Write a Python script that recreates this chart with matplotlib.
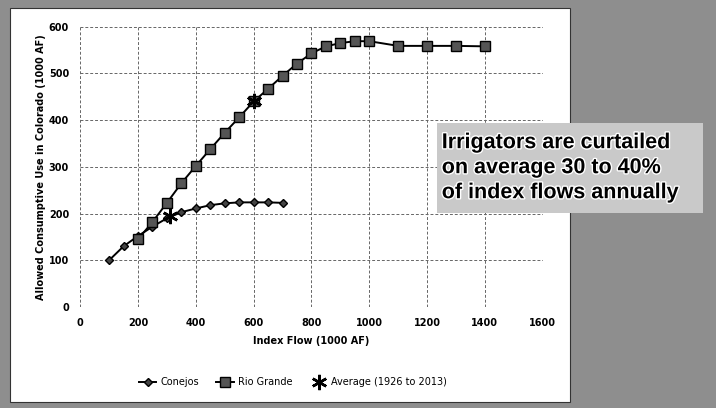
"""Allowed consumptive use in Colorado vs index flow (Conejos / Rio Grande)."""

import matplotlib
matplotlib.use("Agg")
import matplotlib.pyplot as plt
import matplotlib.patheffects as pe
from matplotlib.patches import Rectangle

# Data (1000 AF)
conejos_flow = [100, 150, 200, 250, 300, 350, 400, 450, 500, 550, 600, 650, 700]
conejos_use = [100, 130, 152, 172, 190, 203, 211, 218, 222, 224, 224, 224, 223]

rio_flow = [200, 250, 300, 350, 400, 450, 500, 550, 600, 650, 700, 750, 800,
            850, 900, 950, 1000, 1100, 1200, 1300, 1400]
rio_use = [145, 182, 223, 265, 302, 338, 373, 406, 440, 467, 495, 521, 543,
           558, 565, 569, 569, 559, 559, 559, 558]

avg_flow = [310, 600]
avg_use = [195, 442]

x_ticks = [0, 200, 400, 600, 800, 1000, 1200, 1400, 1600]
y_ticks = [0, 100, 200, 300, 400, 500, 600]

note = "Irrigators are curtailed\non average 30 to 40%\nof index flows annually"

fig = plt.figure(figsize=(7.16, 4.08), dpi=100)
fig.patch.set_facecolor("#8e8e8e")

# white chart panel (behind) and light note box (on top of plot)
fig.patches.append(Rectangle((0.014, 0.015), 0.782, 0.965, transform=fig.transFigure,
                             facecolor="white", edgecolor="#333333", lw=0.8, zorder=0))
fig.patches.append(Rectangle((0.610, 0.478), 0.372, 0.221, transform=fig.transFigure,
                             facecolor="#c9c9c9", edgecolor="none", zorder=5))

ax = fig.add_axes([0.112, 0.2475, 0.646, 0.687])
ax.set_zorder(2)
ax.set_facecolor("white")

ax.plot(conejos_flow, conejos_use, color="black", lw=1.4, marker="D", markersize=4,
        markerfacecolor="#444444", markeredgecolor="black", label="Conejos", zorder=3)
ax.plot(rio_flow, rio_use, color="black", lw=1.4, marker="s", markersize=6.5,
        markerfacecolor="#555555", markeredgecolor="black", label="Rio Grande", zorder=3)
ax.plot(avg_flow, avg_use, linestyle="none", marker=(6, 2, 0), markersize=11,
        color="black", markeredgewidth=1.8, label="Average (1926 to 2013)", zorder=4)

ax.set_xlim(0, 1600)
ax.set_ylim(0, 600)
ax.set_xticks(x_ticks)
ax.set_yticks(y_ticks)
ax.grid(True, color="#666666", linestyle="--", lw=0.7, dashes=(3, 2))
ax.set_axisbelow(True)
for s in ax.spines.values():
    s.set_visible(False)
ax.tick_params(length=0, labelsize=7, pad=8)
for lbl in ax.get_xticklabels() + ax.get_yticklabels():
    lbl.set_fontweight("bold")

ax.set_xlabel("Index Flow (1000 AF)", fontsize=7, fontweight="bold", labelpad=6)
ax.set_ylabel("Allowed Consumptive Use in Colorado (1000 AF)", fontsize=7,
              fontweight="bold", labelpad=2)

ax.legend(loc="upper center", bbox_to_anchor=(0.46, -0.22), ncol=3, frameon=False,
          fontsize=7, handlelength=1.8, handletextpad=0.4, columnspacing=1.8)

txt = fig.text(0.617, 0.589, note, fontsize=15.5, fontweight="bold", family="Liberation Sans",
               va="center", ha="left", linespacing=1.25, color="black", zorder=6)
txt.set_path_effects([pe.withStroke(linewidth=2, foreground="white")])

fig.savefig("out.png", dpi=100, facecolor=fig.get_facecolor())
